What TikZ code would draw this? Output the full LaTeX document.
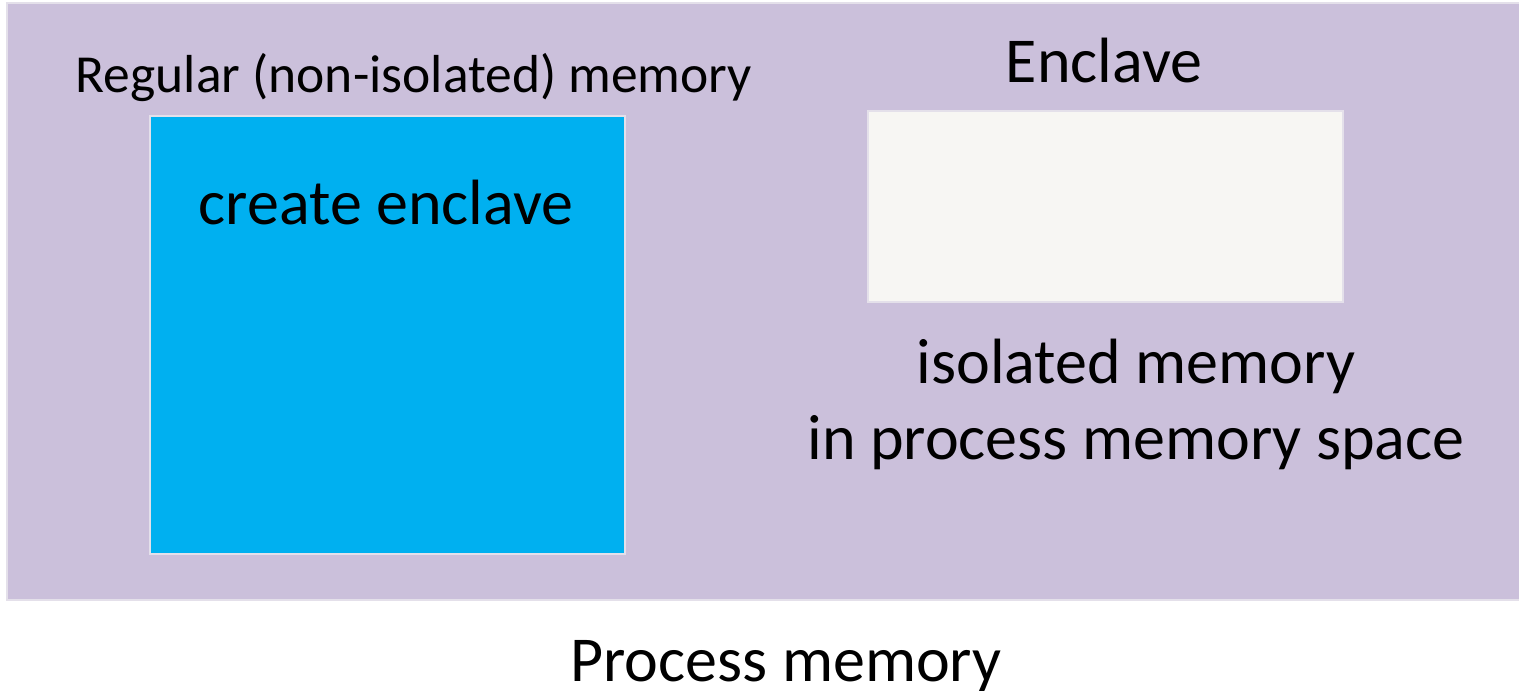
\documentclass[tikz,border=0pt]{standalone}
\usepackage{fontspec}
\setmainfont{Carlito}
\definecolor{procbg}{HTML}{CBC0DB}
\definecolor{regular}{HTML}{00B0F0}
\definecolor{enclavebg}{HTML}{F7F6F3}
\definecolor{edgeline}{HTML}{E4E0EA}
\tikzset{
  region/.style={draw=edgeline, line width=1.2pt},
  bigtext/.style={anchor=base, inner sep=0pt, font=\fontsize{64}{72}\selectfont},
  midtext/.style={anchor=base, inner sep=0pt, font=\fontsize{53.5}{60}\selectfont}
}
\begin{document}
\begin{tikzpicture}[x=1pt, y=-1pt]
\useasboundingbox (0,0) rectangle (1519,691);
\fill[white] (0,0) rectangle (1519,691);
% process memory space
\draw[region, fill=procbg] (7,3) rectangle (1521,600);
% regular memory block
\draw[region, fill=regular] (150,116) rectangle (625,554);
% enclave block
\draw[region, fill=enclavebg] (868,111) rectangle (1343,302);
% labels
\node[midtext] (reglabel) at (414,92) {Regular (non-isolated) memory};
\node[bigtext] (create) at (386,224) {create enclave};
\node[bigtext] (enclabel) at (1104,82) {Enclave};
\node[bigtext] (iso1) at (1136,383) {isolated memory};
\node[bigtext] (iso2) at (1136,459) {in process memory space};
\node[bigtext] (proclabel) at (786,681) {Process memory};
\end{tikzpicture}
\end{document}
